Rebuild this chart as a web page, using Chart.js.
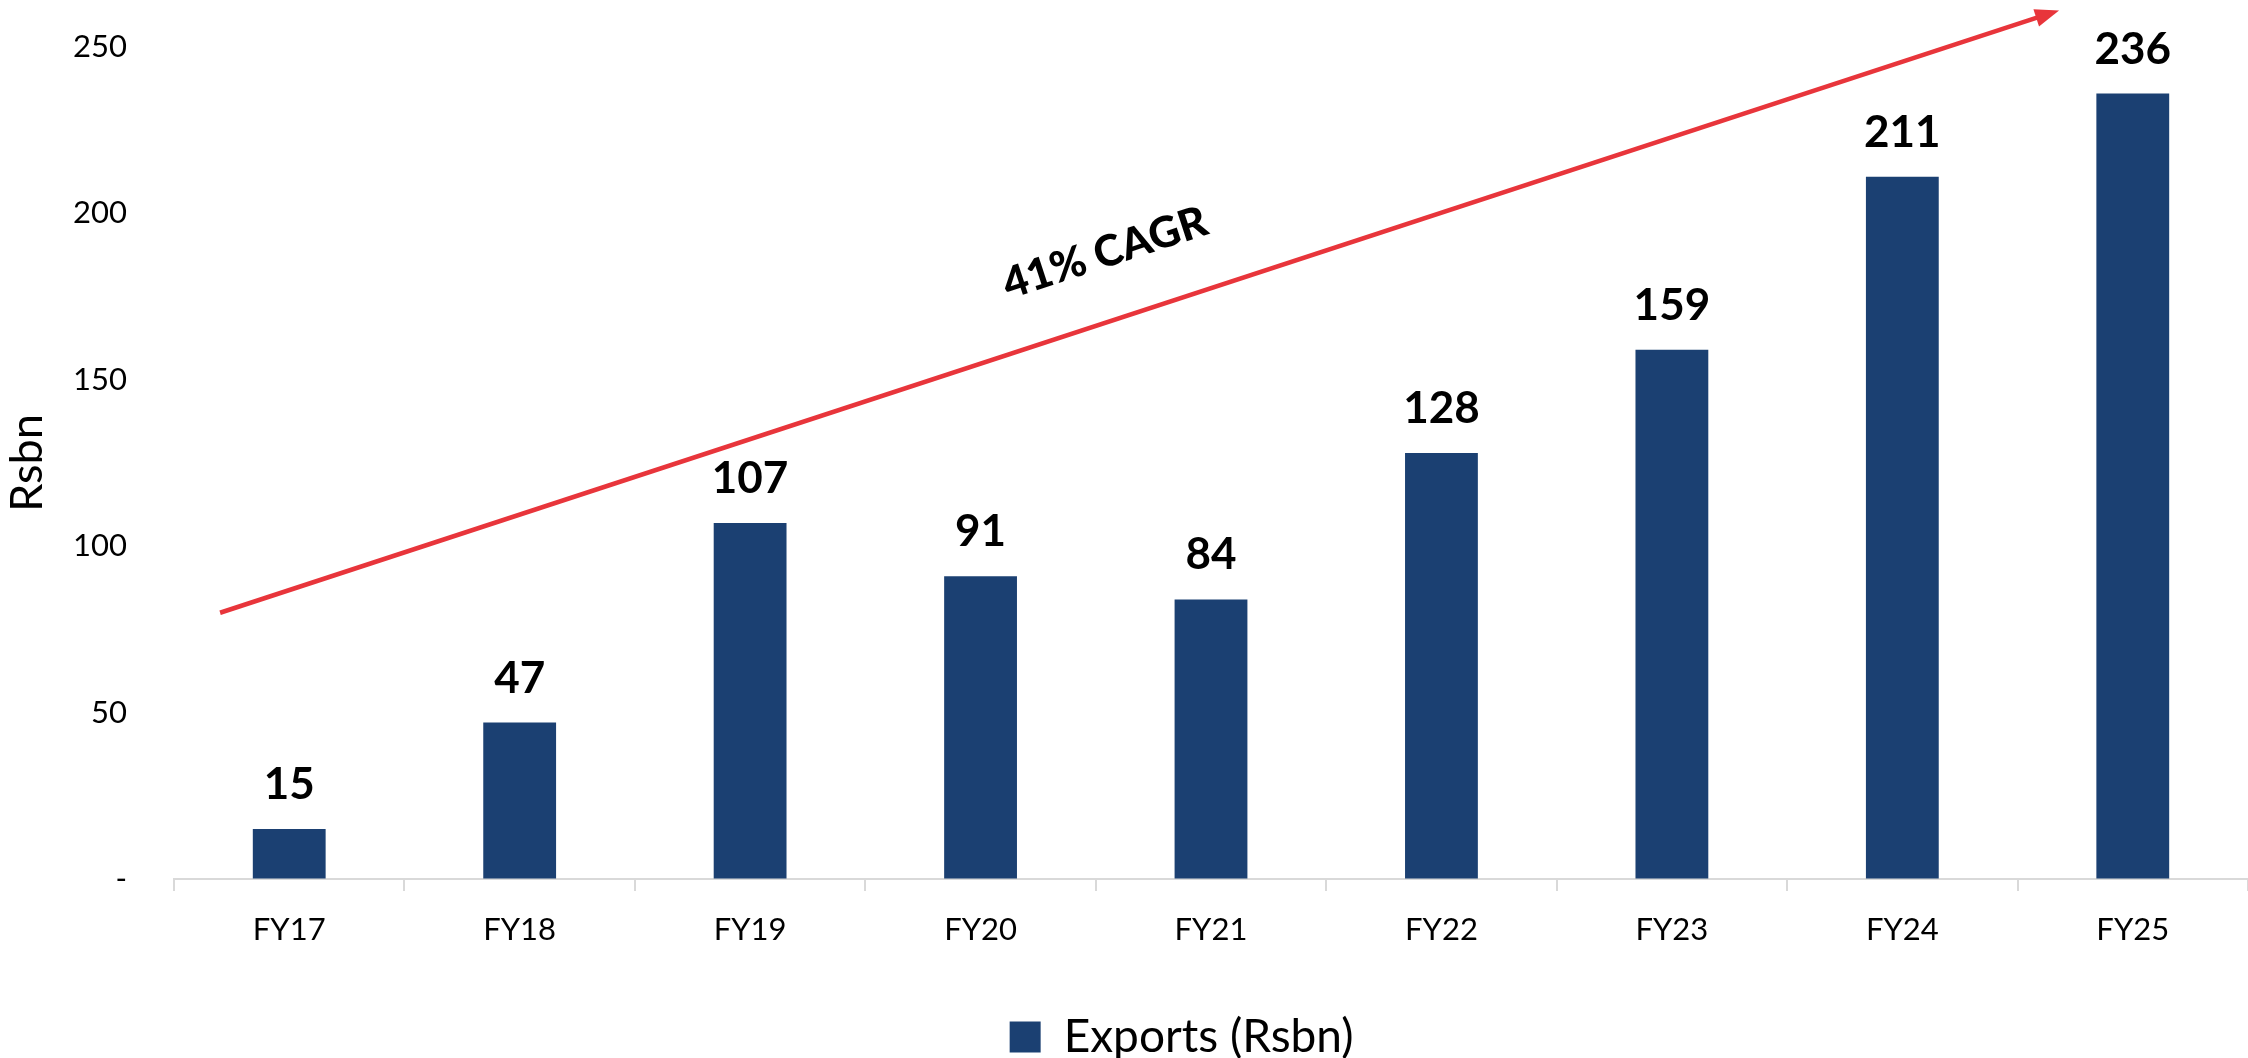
<!DOCTYPE html>
<html>
<head>
<meta charset="utf-8">
<script src="https://cdn.jsdelivr.net/npm/chart.js@4.4.1/dist/chart.umd.min.js"></script>
<style>
  html, body { margin: 0; padding: 0; background: #fff; }
  #wrap { width: 2248px; height: 1058px; }
</style>
</head>
<body>
<div id="wrap"><canvas id="exports"></canvas></div>
<script>
'use strict';

const years = ['FY17', 'FY18', 'FY19', 'FY20', 'FY21', 'FY22', 'FY23', 'FY24', 'FY25'];
const exportsRsbn = [15, 47, 107, 91, 84, 128, 159, 211, 236];
const yTicks = [0, 50, 100, 150, 200, 250];

// CAGR arrow, in (category index, value) units
const arrowFrom = [-0.3, 80];
const arrowTo = [7.68, 261];
const cagrText = '41% CAGR';
const cagrAt = [3.54, 188];

const navy = '#1b4072';
const red = '#e8353b';
const font = 'Lato';

const barLabels = {
    id: 'barLabels',
    afterDatasetsDraw(chart) {
        const ctx = chart.ctx;
        const meta = chart.getDatasetMeta(0);
        ctx.save();
        ctx.fillStyle = '#000';
        ctx.font = `bold 44px ${font}`;
        ctx.textAlign = 'center';
        ctx.textBaseline = 'alphabetic';
        meta.data.forEach((bar, i) => {
            ctx.fillText(exportsRsbn[i], bar.x, bar.y - 30);
        });
        ctx.restore();
    }
};

const cagrArrow = {
    id: 'cagrArrow',
    afterDraw(chart) {
        const ctx = chart.ctx;
        const x = chart.scales.x, y = chart.scales.y;
        const step = x.getPixelForValue(1) - x.getPixelForValue(0);
        const px = (v) => x.getPixelForValue(0) + v * step;
        const x1 = px(arrowFrom[0]), y1 = y.getPixelForValue(arrowFrom[1]);
        const x2 = px(arrowTo[0]), y2 = y.getPixelForValue(arrowTo[1]);
        const ang = Math.atan2(y2 - y1, x2 - x1);
        const head = 24, half = 9;
        ctx.save();
        ctx.strokeStyle = red;
        ctx.fillStyle = red;
        ctx.lineWidth = 4.5;
        ctx.beginPath();
        ctx.moveTo(x1, y1);
        ctx.lineTo(x2 - head * 0.8 * Math.cos(ang), y2 - head * 0.8 * Math.sin(ang));
        ctx.stroke();
        ctx.translate(x2, y2);
        ctx.rotate(ang);
        ctx.beginPath();
        ctx.moveTo(0, 0);
        ctx.lineTo(-head, -half);
        ctx.lineTo(-head, half);
        ctx.closePath();
        ctx.fill();
        ctx.restore();

        ctx.save();
        ctx.translate(px(cagrAt[0]), y.getPixelForValue(cagrAt[1]));
        ctx.rotate(ang);
        ctx.fillStyle = '#000';
        ctx.font = `900 43px ${font}`;
        ctx.textAlign = 'center';
        ctx.textBaseline = 'middle';
        ctx.fillText(cagrText, 0, 0);
        ctx.restore();
    }
};

new Chart(document.getElementById('exports'), {
    type: 'bar',
    data: {
        labels: years,
        datasets: [{
            label: 'Exports (Rsbn)',
            data: exportsRsbn,
            backgroundColor: navy,
            borderWidth: 0,
            barPercentage: 0.316,
            categoryPercentage: 1
        }]
    },
    options: {
        responsive: true,
        maintainAspectRatio: false,
        animation: false,
        layout: { padding: { top: 47, right: 0, left: 0, bottom: -12 } },
        plugins: {
            tooltip: { enabled: false },
            legend: {
                position: 'bottom',
                fullSize: false,
                labels: {
                    color: '#000',
                    font: { family: font, size: 46, lineHeight: 1 },
                    boxWidth: 31,
                    boxHeight: 31,
                    padding: 0,
                    generateLabels: (chart) => Chart.defaults.plugins.legend.labels.generateLabels(chart)
                        .map(item => Object.assign(item, { text: item.text + '     ' }))
                }
            }
        },
        scales: {
            x: {
                grid: {
                    offset: true,
                    drawOnChartArea: false,
                    drawTicks: true,
                    tickLength: 12,
                    color: '#d9d9d9',
                    lineWidth: 2
                },
                border: { color: '#d9d9d9', width: 2 },
                ticks: {
                    color: '#000',
                    font: { family: font, size: 31 },
                    padding: 20
                },
                afterFit: (scale) => { scale.height = 135; }
            },
            y: {
                min: 0,
                max: 250,
                // invisible tick marks give the gap between labels and bars
                grid: {
                    drawOnChartArea: false,
                    drawTicks: true,
                    tickLength: 47,
                    color: 'rgba(0,0,0,0)'
                },
                border: { display: false },
                afterBuildTicks: (scale) => { scale.ticks = yTicks.map(v => ({ value: v })); },
                ticks: {
                    color: '#000',
                    font: { family: font, size: 31 },
                    padding: 0,
                    callback: (v) => v === 0 ? '-' : v
                },
                title: {
                    display: true,
                    text: 'Rsbn',
                    color: '#000',
                    font: { family: font, size: 45 },
                    padding: { top: 0, bottom: 0 }
                },
                afterFit: (scale) => { scale.width = 174; }
            }
        }
    },
    plugins: [barLabels, cagrArrow]
});
</script>
</body>
</html>
